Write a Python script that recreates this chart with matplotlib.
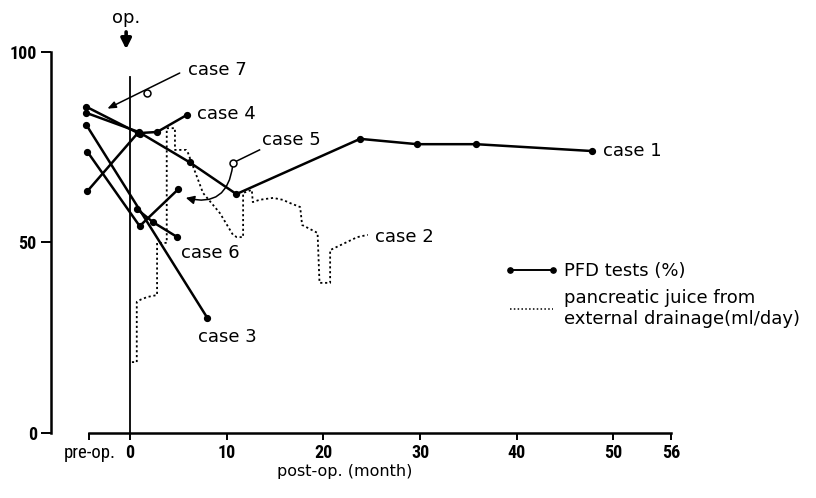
import matplotlib.pyplot as plt
from matplotlib.lines import Line2D
from matplotlib.patches import FancyArrowPatch
from matplotlib import font_manager

# PFD test values (%) per case, x in months after operation (pre-op drawn at -4.5)
case1_x = [-4.5, 0.9, 6.2, 11.0, 23.8, 29.7, 35.8, 47.8]
case1_y = [84, 79, 71, 62.7, 77.2, 75.8, 75.8, 74]
case3_x = [-4.5, 8.0]
case3_y = [80.8, 30.2]
case4_x = [-4.4, 0.8, 2.8, 5.9]
case4_y = [63.5, 78.7, 79, 83.5]
case5_x = [-4.4, 1.0, 5.0]
case5_y = [73.8, 54.3, 64]
case6_x = [0.7, 2.4, 4.9]
case6_y = [58.8, 55.3, 51.4]
case7_x = [-4.5, 1.0]
case7_y = [85.6, 78.5]

# case 2: pancreatic juice from external drainage (ml/day)
case2_x = [0.2, 0.7, 0.7, 1.1, 1.8, 2.8, 2.8, 3.8, 3.8, 4.65, 4.65, 5.8, 6.0, 7.55,
           9.3, 10.65, 11.05, 11.7, 11.7, 12.6, 12.7, 13.4, 14.8, 15.8, 16.5, 17.6,
           17.8, 19.4, 19.6, 20.7, 20.7, 23.5, 24.6]
case2_y = [18.6, 18.6, 34.4, 35.0, 35.7, 36.2, 49.9, 49.9, 80, 80, 74.3, 74.3, 73.5, 63,
           57.7, 52, 51.4, 51.4, 63, 63.8, 60.6, 61.2, 61.7, 61.2, 60.4, 59.3,
           54.6, 52.5, 39.4, 39.4, 48, 51.4, 52]

xtick_pos = [-4.2, 0, 10, 20, 30, 40, 50, 56]
xtick_labels = ['pre-op.', '0', '10', '20', '30', '40', '50', '56']
ytick_pos = [0, 50, 100]

# narrow font for the axis numbers, if one is installed
names = {f.name for f in font_manager.fontManager.ttflist}
narrow = None
for cand in ['Liberation Sans Narrow', 'DejaVu Sans Condensed', 'Roboto Condensed',
             'Open Sans Condensed']:
    if cand in names:
        narrow = cand
        break

fig = plt.figure(figsize=(8.16, 4.98), dpi=100)
ax = fig.add_axes([0.0586, 0.1153, 0.782, 0.8415])
ax.set_xlim(-8.5, 57.5)
ax.set_ylim(-2, 108)

solid = dict(color='black', lw=1.8, marker='o', ms=4.2)
for xs, ys in [(case1_x, case1_y), (case3_x, case3_y), (case4_x, case4_y),
               (case5_x, case5_y), (case6_x, case6_y), (case7_x, case7_y)]:
    ax.plot(xs, ys, **solid)

ax.plot(case2_x, case2_y, color='black', lw=1.3, ls=(0, (1.2, 1.5)))

# operation line and arrow
ax.plot([0, 0], [0, 93.4], color='black', lw=1.3)
ax.annotate('', xy=(-0.4, 100), xytext=(-0.4, 106), annotation_clip=False,
            arrowprops=dict(arrowstyle='-|>,head_length=0.6,head_width=0.3',
                            color='black', lw=2.6))
ax.text(-0.4, 108.8, 'op.', ha='center', va='center', fontsize=13, clip_on=False)

# case labels
lab = dict(fontsize=13, va='center', ha='left')
ax.text(6.0, 95.3, 'case 7', **lab)
ax.text(6.9, 83.7, 'case 4', **lab)
ax.text(13.65, 76.9, 'case 5', **lab)
ax.text(5.3, 47.2, 'case 6', **lab)
ax.text(7.0, 25.2, 'case 3', **lab)
ax.text(25.3, 51.4, 'case 2', **lab)
ax.text(48.9, 74, 'case 1', **lab)

# pointers for case 7 and case 5
ax.annotate('', xy=(-2.6, 84.8), xytext=(5.4, 94.8),
            arrowprops=dict(arrowstyle='-|>,head_length=0.5,head_width=0.2',
                            color='black', lw=1.1))
ax.plot(1.75, 89.3, 'o', mfc='white', mec='black', ms=5, mew=1.1)
ax.plot([13.4, 10.65], [74.3, 70.9], color='black', lw=1.1)
ax.add_patch(FancyArrowPatch((10.65, 70.9), (5.5, 61.9), connectionstyle='arc3,rad=-0.6',
                             arrowstyle='-|>,head_length=5,head_width=2.5',
                             color='black', lw=1.1))
ax.plot(10.65, 70.9, 'o', mfc='white', mec='black', ms=5, mew=1.1)

# axes styling
for s in ['top', 'right']:
    ax.spines[s].set_visible(False)
ax.spines['left'].set_position(('data', -8.2))
ax.spines['left'].set_bounds(0, 100)
ax.spines['bottom'].set_position(('data', 0))
ax.spines['bottom'].set_bounds(-4.2, 56)
ax.spines['left'].set_linewidth(1.8)
ax.spines['bottom'].set_linewidth(1.8)

ax.set_xticks(xtick_pos)
ax.set_xticklabels(xtick_labels)
ax.set_yticks(ytick_pos)
ax.set_yticklabels(['0', '50', '100'])
ax.tick_params(axis='both', direction='out', width=1.4, colors='black')
ax.tick_params(axis='x', length=5, pad=3)
ax.tick_params(axis='y', length=7, pad=3)
for t in ax.get_xticklabels() + ax.get_yticklabels():
    if narrow:
        t.set_family([narrow, 'DejaVu Sans'])
        t.set_fontsize(13)
    else:
        t.set_fontstretch('condensed')
        t.set_fontsize(11.5)
    t.set_fontweight('bold')
ax.get_xticklabels()[0].set_fontweight('normal')
ax.get_xticklabels()[0].set_fontsize(13.5)

ax.set_xlabel('post-op. (month)', fontsize=11.5)
ax.xaxis.set_label_coords(0.465, -0.055)

handles = [Line2D([0], [0], color='black', lw=1.4, marker='o', ms=3.8),
           Line2D([0], [0], color='black', lw=1.1, ls=(0, (1, 1.5)))]
ax.legend(handles, ['PFD tests (%)', 'pancreatic juice from\nexternal drainage(ml/day)'],
          numpoints=2, frameon=False, handlelength=3.0, handletextpad=0.3,
          fontsize=13, loc='upper left', bbox_to_anchor=(0.69, 0.465),
          labelspacing=0.5)

plt.savefig('out.png', dpi=100)
